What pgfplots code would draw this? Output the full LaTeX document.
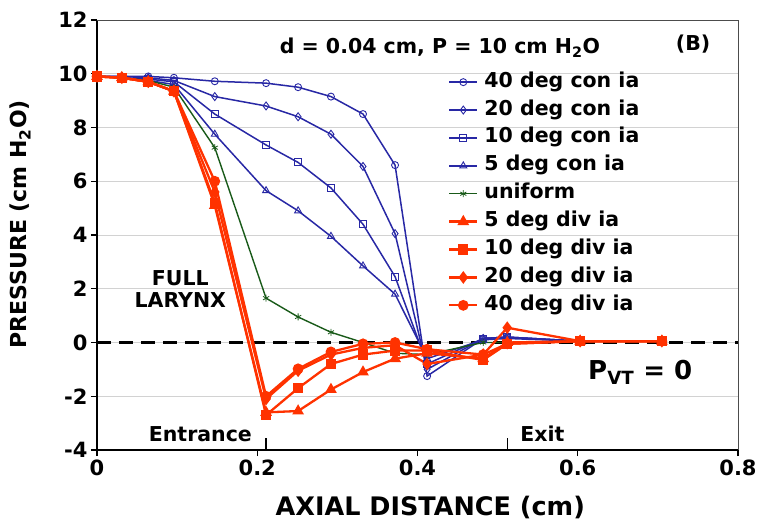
\documentclass[border=0pt]{standalone}
\usepackage{fontspec}
\setmainfont{DejaVu Sans}
\usepackage{pgfplots}
\pgfplotsset{compat=1.18}

\definecolor{conblue}{RGB}{40,40,165}
\definecolor{divred}{RGB}{255,50,0}
\definecolor{unigreen}{RGB}{25,90,25}

\newcommand{\bigbf}{\fontsize{20.5bp}{24bp}\selectfont\bfseries}
\newcommand{\tickbf}{\fontsize{21bp}{24bp}\selectfont\bfseries}

\begin{document}
\begin{tikzpicture}
\useasboundingbox (-97bp,-74bp) rectangle (664bp,450bp);
\begin{axis}[
  width=641bp, height=430bp, scale only axis,
  xmin=0, xmax=0.8, ymin=-4, ymax=12,
  xtick={0,0.2,0.4,0.6,0.8},
  ytick={-4,-2,0,2,4,6,8,10,12},
  /pgf/number format/assume math mode=true,
  ymajorgrids, grid style={gray!35, line width=0.8bp},
  axis x line*=bottom, axis y line*=left,
  axis line style={black, line width=1.6bp},
  tick style={black, line width=1.4bp},
  tick align=outside, major tick length=6bp,
  tick label style={font=\tickbf},
  xlabel={AXIAL DISTANCE (cm)},
  ylabel={PRESSURE (cm H\textsubscript{2}O)},
  every axis x label/.style={at={(axis description cs:0.52,-0.133)}, anchor=center,
    font=\fontsize{25.5bp}{28bp}\selectfont\bfseries},
  every axis y label/.style={at={(axis description cs:-0.12,0.525)}, rotate=90, anchor=center,
    font=\fontsize{22bp}{26bp}\selectfont\bfseries},
  clip=false,
  legend style={at={(axis cs:0.438,10.03)}, anchor=north west, draw=none, fill=none,
    inner sep=0pt, font=\bigbf, row sep=9.9bp, column sep=6bp,
    nodes={inner sep=0pt, text height=14bp, text depth=4bp}},
  legend cell align=left,
  legend image code/.code={\draw[mark repeat=2, mark phase=2, #1]
    plot coordinates {(0bp,0bp) (14bp,0bp) (28bp,0bp)};},
  con/.style={conblue, line width=1.5bp, mark options={solid, fill=white, line width=0.9bp}},
  dv/.style={divred, line width=2.3bp, mark options={solid, fill=divred}},
]

% reference pressure level
\addplot[black, line width=2.6bp, dash pattern=on 14bp off 8bp, forget plot]
  coordinates {(0,0) (0.8,0)};

% convergent inlet angles
\addplot[con, mark=o, mark size=3.5bp] coordinates {
 (0,9.9)(0.031,9.9)(0.064,9.9)(0.096,9.85)(0.147,9.72)(0.211,9.65)(0.251,9.5)(0.292,9.15)
 (0.332,8.5)(0.372,6.6)(0.412,-1.25)(0.482,0.15)(0.512,0.2)(0.603,0.05)(0.705,0.05)};
\addlegendentry{40 deg con ia}
\addplot[con, mark=diamond, mark size=4bp] coordinates {
 (0,9.9)(0.031,9.9)(0.064,9.85)(0.096,9.75)(0.147,9.15)(0.211,8.8)(0.251,8.4)(0.292,7.75)
 (0.332,6.55)(0.372,4.05)(0.412,-1.0)(0.482,0.15)(0.512,0.2)(0.603,0.05)(0.705,0.05)};
\addlegendentry{20 deg con ia}
\addplot[con, mark=square, mark size=3.5bp] coordinates {
 (0,9.9)(0.031,9.85)(0.064,9.8)(0.096,9.7)(0.147,8.5)(0.211,7.35)(0.251,6.7)(0.292,5.75)
 (0.332,4.4)(0.372,2.45)(0.412,-0.8)(0.482,0.15)(0.512,0.2)(0.603,0.05)(0.705,0.05)};
\addlegendentry{10 deg con ia}
\addplot[con, mark=triangle, mark size=4bp] coordinates {
 (0,9.9)(0.031,9.85)(0.064,9.75)(0.096,9.6)(0.147,7.75)(0.211,5.65)(0.251,4.9)(0.292,3.95)
 (0.332,2.85)(0.372,1.8)(0.412,-0.6)(0.482,0.1)(0.512,0.15)(0.603,0.05)(0.705,0.05)};
\addlegendentry{5 deg con ia}

% uniform glottis
\addplot[unigreen, line width=1.4bp, mark=asterisk, mark size=3.5bp, mark options={solid, line width=0.8bp}] coordinates {
 (0,9.9)(0.031,9.85)(0.064,9.75)(0.096,9.5)(0.147,7.25)(0.211,1.65)(0.251,0.95)(0.292,0.38)
 (0.332,0.0)(0.372,-0.4)(0.412,-0.45)(0.482,0.0)(0.512,0.0)(0.603,0.05)(0.705,0.05)};
\addlegendentry{uniform}

% divergent inlet angles
\addplot[dv, mark=triangle*, mark size=4.5bp] coordinates {
 (0,9.9)(0.031,9.85)(0.064,9.7)(0.096,9.35)(0.147,5.1)(0.211,-2.6)(0.251,-2.55)(0.292,-1.75)
 (0.332,-1.1)(0.372,-0.6)(0.412,-0.4)(0.482,-0.6)(0.512,0.0)(0.603,0.05)(0.705,0.05)};
\addlegendentry{5 deg div ia}
\addplot[dv, mark=square*, mark size=4bp] coordinates {
 (0,9.9)(0.031,9.85)(0.064,9.7)(0.096,9.35)(0.147,5.2)(0.211,-2.7)(0.251,-1.7)(0.292,-0.8)
 (0.332,-0.45)(0.372,-0.3)(0.412,-0.3)(0.482,-0.65)(0.512,-0.05)(0.603,0.05)(0.705,0.05)};
\addlegendentry{10 deg div ia}
\addplot[dv, mark=diamond*, mark size=4.5bp] coordinates {
 (0,9.9)(0.031,9.85)(0.064,9.7)(0.096,9.35)(0.147,5.6)(0.211,-2.1)(0.251,-1.05)(0.292,-0.45)
 (0.332,-0.2)(0.372,-0.1)(0.412,-0.8)(0.482,-0.45)(0.512,0.55)(0.603,0.05)(0.705,0.05)};
\addlegendentry{20 deg div ia}
\addplot[dv, mark=*, mark size=4.2bp] coordinates {
 (0,9.9)(0.031,9.85)(0.064,9.7)(0.096,9.35)(0.147,6.0)(0.211,-2.0)(0.251,-0.98)(0.292,-0.35)
 (0.332,-0.05)(0.372,0.0)(0.412,-0.25)(0.482,-0.45)(0.512,-0.05)(0.603,0.05)(0.705,0.05)};
\addlegendentry{40 deg div ia}

% frame on the top and right sides
\draw[gray!60!black, line width=0.8bp] (rel axis cs:0,1) -- (rel axis cs:1,1) -- (rel axis cs:1,0);

% entrance and exit markers
\draw[black, line width=1.4bp] (axis cs:0.211,-4) -- (axis cs:0.211,-3.55);
\draw[black, line width=1.4bp] (axis cs:0.512,-4) -- (axis cs:0.512,-3.55);
\node[font=\bigbf] at (axis cs:0.129,-3.4) {Entrance};
\node[font=\bigbf] at (axis cs:0.556,-3.4) {Exit};

\node[font=\bigbf] at (axis cs:0.428,10.96) {d = 0.04 cm, P = 10 cm H\textsubscript{2}O};
\node[font=\bigbf] at (axis cs:0.744,11.1) {(B)};
\node[font=\bigbf, align=center] at (axis cs:0.104,2.0) {FULL\\[-2bp]LARYNX};
\node[font=\fontsize{26bp}{30bp}\selectfont\bfseries] at (axis cs:0.678,-1.1) {P\textsubscript{VT} = 0};
\end{axis}
\end{tikzpicture}
\end{document}
